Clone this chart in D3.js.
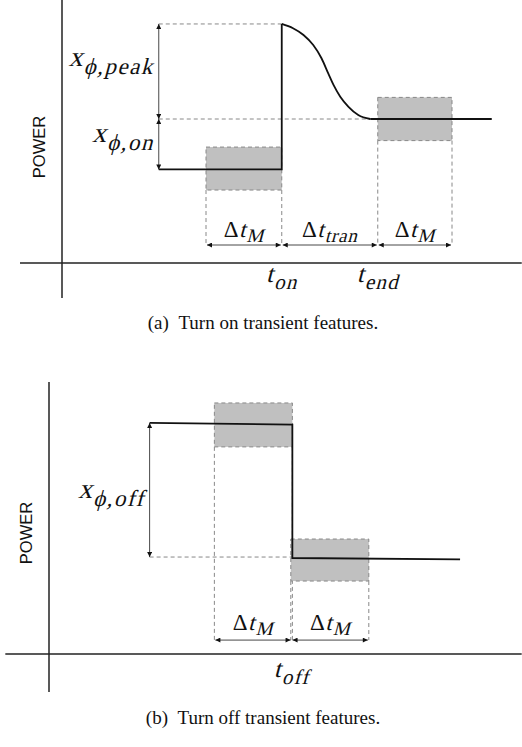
<!DOCTYPE html>
<html><head><meta charset="utf-8">
<script src="https://cdn.jsdelivr.net/npm/d3@7"></script>
<style>html,body{margin:0;padding:0;background:#fff}svg{display:block}</style>
</head><body>
<svg id="chart" width="522" height="747"></svg>
<script>
// ---------- Panel (a): turn-on transient (time units, power units) ----------
const aAxisT = [-0.56, 6.13];          // extent of time axis
const aAxisP = [-1.46, 10.96];         // extent of power axis
const aStep = [[1.29, 3.9], [2.93, 3.9], [2.93, 9.96]];
const aDecay = [[2.93, 9.96], [3.08, 9.78], [3.22, 9.50], [3.35, 9.08], [3.46, 8.53],
                [3.55, 7.90], [3.62, 7.42], [3.71, 6.93], [3.82, 6.51], [3.95, 6.17], [4.11, 6.0]];
const aSteady = [[4.11, 6.0], [5.73, 6.0]];
const aWindows = [[1.92, 2.93, 3.04, 4.83], [4.21, 5.2, 5.1, 6.9]]; // t0,t1,p0,p1
const aMarks = [1.92, 2.93, 4.21, 5.2];  // window edges on the time arrows
const aArrowP = 0.75;
const aLevels = [9.96, 6.0, 3.9];      // peak, steady, off
const aTimeLabels = [["t", "on", 2.93], ["t", "end", 4.21]];
const aSpanLabels = [["M", 1.92, 2.93], ["tran", 2.93, 4.21], ["M", 4.21, 5.2]];

// ---------- Panel (b): turn-off transient ----------
const bAxisT = [-0.56, 6.06];
const bAxisP = [-1.58, 11.33];
const bSignal = [[1.29, 9.63], [3.12, 9.56], [3.12, 4.0], [5.27, 3.94]];
const bWindows = [[2.12, 3.12, 8.63, 10.46], [3.10, 4.10, 3.04, 4.79]];
const bMarks = [2.12, 3.11, 4.10];
const bArrowP = 0.58;
const bLevels = [9.63, 4.04];
const bTimeLabels = [["t", "off", 3.11]];
const bSpanLabels = [["M", 2.12, 3.11], ["M", 3.11, 4.10]];

const captions = ["(a)\u00a0\u00a0Turn on transient features.", "(b)\u00a0\u00a0Turn off transient features."];

// ---------- drawing ----------
const svg = d3.select("#chart");
const defs = svg.append("defs");
["start", "end"].forEach(k => {
  defs.append("marker").attr("id", "ah-" + k)
    .attr("viewBox", "0 0 10 10").attr("refX", k === "end" ? 10 : 0).attr("refY", 5)
    .attr("markerWidth", 7).attr("markerHeight", 5).attr("markerUnits", "userSpaceOnUse")
    .attr("orient", "auto")
    .append("path").attr("d", k === "end" ? "M0,0L10,5L0,10Z" : "M10,0L0,5L10,10Z").attr("fill", "#111");
});

const MATH = '"Liberation Serif", "Times New Roman", serif';
const DASH = "4,3";

// math-like label: upright prefix, slanted base + lowered slanted subscript
function mathLabel(g, x, y, pre, base, sub, anchor, size, subSize, shift, ls) {
  const lg = g.append("g");
  const parts = [];
  if (pre) parts.push({s: pre, size: size, dy: 0, skew: false, ls: 0.5, gap: 0});
  parts.push({s: base, size: size, dy: 0, skew: true, ls: 0, gap: 1});
  parts.push({s: sub, size: subSize, dy: shift, skew: true, ls: ls, gap: 0});
  let cx = 0;
  parts.forEach(p => {
    const t = lg.append("text").attr("font-family", MATH).attr("font-size", p.size)
      .attr("letter-spacing", p.ls).attr("fill", "#111").text(p.s)
      .attr("transform", `translate(${cx},${p.dy})` + (p.skew ? " skewX(-15)" : ""));
    cx += t.node().getComputedTextLength() + p.gap;
  });
  const off = anchor === "end" ? -cx : anchor === "middle" ? -cx / 2 : 0;
  lg.attr("transform", `translate(${x + off},${y})`);
}

function panel(cfg) {
  const g = svg.append("g");
  const x = d3.scaleLinear().domain([0, 1]).range(cfg.xr);
  const y = d3.scaleLinear().domain([0, 1]).range(cfg.yr);
  const line = d3.line().x(d => x(d[0])).y(d => y(d[1]));

  // axes
  g.append("line").attr("x1", x(cfg.axisT[0])).attr("x2", x(cfg.axisT[1]))
    .attr("y1", y(0)).attr("y2", y(0)).attr("stroke", "#222").attr("stroke-width", 1.5);
  g.append("line").attr("x1", x(0)).attr("x2", x(0))
    .attr("y1", y(cfg.axisP[0])).attr("y2", y(cfg.axisP[1])).attr("stroke", "#222").attr("stroke-width", 1.5);
  g.append("text").attr("transform", `translate(${x(0) - cfg.powerDx},${cfg.powerY}) rotate(-90)`)
    .attr("text-anchor", "middle").attr("font-family", '"Liberation Sans", Arial, sans-serif')
    .attr("font-size", 16.5).attr("fill", "#111").text("POWER");

  // windows
  cfg.windows.forEach(w => {
    g.append("rect").attr("x", x(w[0])).attr("y", y(w[3]))
      .attr("width", x(w[1]) - x(w[0])).attr("height", y(w[2]) - y(w[3]))
      .attr("fill", "#c0c0c0").attr("stroke", "#888").attr("stroke-width", 1).attr("stroke-dasharray", DASH);
    [w[0], w[1]].forEach(t => {
      g.append("line").attr("x1", x(t)).attr("x2", x(t)).attr("y1", y(w[2])).attr("y2", y(cfg.arrowP))
        .attr("stroke", "#888").attr("stroke-width", 1).attr("stroke-dasharray", DASH);
    });
  });

  // level reference dashed lines
  cfg.refLines.forEach(r => {
    g.append("line").attr("x1", x(r[0])).attr("x2", x(r[1])).attr("y1", y(r[2])).attr("y2", y(r[2]))
      .attr("stroke", "#888").attr("stroke-width", 1).attr("stroke-dasharray", DASH);
  });

  // signal
  cfg.segments.forEach(s => {
    g.append("path").attr("d", line.curve(s.curve)(s.data))
      .attr("fill", "none").attr("stroke", "#111").attr("stroke-width", 1.8);
  });

  // vertical amplitude arrows
  cfg.vArrows.forEach(a => {
    g.append("line").attr("x1", x(a[0])).attr("x2", x(a[0])).attr("y1", y(a[1])).attr("y2", y(a[2]))
      .attr("stroke", "#333").attr("stroke-width", 0.9)
      .attr("marker-start", "url(#ah-start)").attr("marker-end", "url(#ah-end)");
  });

  // horizontal duration arrows
  for (let i = 0; i < cfg.marks.length - 1; i++) {
    g.append("line").attr("x1", x(cfg.marks[i]) + 1).attr("x2", x(cfg.marks[i + 1]) - 1)
      .attr("y1", y(cfg.arrowP)).attr("y2", y(cfg.arrowP))
      .attr("stroke", "#333").attr("stroke-width", 0.9)
      .attr("marker-start", "url(#ah-start)").attr("marker-end", "url(#ah-end)");
  }
  cfg.spanLabels.forEach(s => {
    mathLabel(g, (x(s[1]) + x(s[2])) / 2, y(cfg.arrowP) - cfg.spanDy, "\u0394", "t", s[0], "middle", 23, 19, 5, 0.8);
  });
  cfg.timeLabels.forEach(s => {
    mathLabel(g, x(s[2]), y(0) + cfg.timeDy, null, s[0], s[1], "middle", 25, 21, 7, 1.2);
  });
  cfg.ampLabels.forEach(s => {
    mathLabel(g, x(s[0]) - 5, s[2], null, "x", s[1], "end", 28, 23, 8, 1.5);
  });
  g.append("text").attr("x", 263).attr("y", cfg.capY).attr("text-anchor", "middle")
    .attr("font-family", '"Liberation Serif", "Times New Roman", serif').attr("font-size", 19)
    .attr("fill", "#111").text(cfg.caption);
}

panel({
  xr: [62, 137], yr: [263, 239], axisT: aAxisT, axisP: aAxisP,
  powerDx: 17, powerY: 147,
  windows: aWindows, marks: aMarks, arrowP: aArrowP,
  refLines: [[aStep[0][0], aStep[1][0], aLevels[0]], [aStep[0][0], aSteady[0][0], aLevels[1]]],
  segments: [{data: aStep, curve: d3.curveLinear}, {data: aDecay, curve: d3.curveMonotoneX}, {data: aSteady, curve: d3.curveLinear}],
  vArrows: [[aStep[0][0], aLevels[0], aLevels[1]], [aStep[0][0], aLevels[1], aLevels[2]]],
  spanLabels: aSpanLabels, spanDy: 8, timeLabels: aTimeLabels, timeDy: 19,
  ampLabels: [[aStep[0][0], "\u03d5,peak", 66], [aStep[0][0], "\u03d5,on", 142]],
  caption: captions[0], capY: 329
});

panel({
  xr: [49, 127], yr: [654, 630], axisT: bAxisT, axisP: bAxisP,
  powerDx: 17, powerY: 533,
  windows: bWindows, marks: bMarks, arrowP: bArrowP,
  refLines: [[bSignal[0][0], bSignal[1][0], bLevels[1]]],
  segments: [{data: bSignal, curve: d3.curveLinear}],
  vArrows: [[bSignal[0][0], bLevels[0], bLevels[1]]],
  spanLabels: bSpanLabels, spanDy: 10, timeLabels: bTimeLabels, timeDy: 23,
  ampLabels: [[bSignal[0][0], "\u03d5,off", 498]],
  caption: captions[1], capY: 724
});
</script>
</body></html>
